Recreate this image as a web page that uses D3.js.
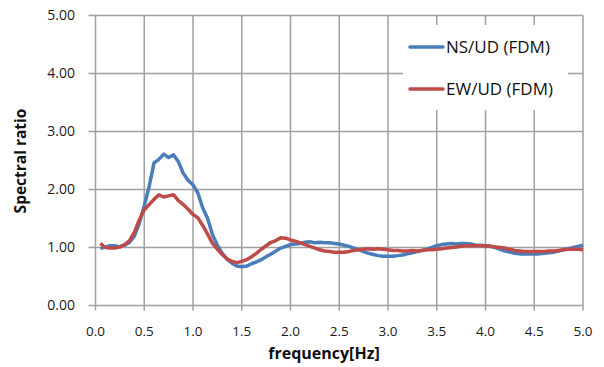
<!DOCTYPE html>
<html>
<head>
<meta charset="utf-8">
<script src="https://cdn.jsdelivr.net/npm/d3@7"></script>
<style>
  html, body { margin: 0; padding: 0; background: #ffffff; }
  svg { display: block; font-family: "Open Sans", "Liberation Sans", sans-serif; }
</style>
</head>
<body>
<svg id="chart" width="604" height="367"></svg>
<script>
// Frequency samples (Hz)
const frequency = d3.range(1, 101).map(i => +(i * 0.05).toFixed(2));

// NS/UD spectral ratio (FDM)
const nsUd = [
  0.98, 1.01, 1.03, 1.03, 1.01, 1.04, 1.09, 1.20, 1.42, 1.72,
  2.05, 2.46, 2.52, 2.61, 2.55, 2.60, 2.48, 2.28, 2.16, 2.08,
  1.94, 1.68, 1.50, 1.22, 1.04, 0.90, 0.80, 0.73, 0.68, 0.67,
  0.68, 0.72, 0.75, 0.79, 0.84, 0.89, 0.94, 0.99, 1.02, 1.05,
  1.06, 1.07, 1.09, 1.10, 1.08, 1.09, 1.08, 1.08, 1.07, 1.06,
  1.04, 1.02, 0.99, 0.96, 0.93, 0.90, 0.88, 0.86, 0.85, 0.85,
  0.85, 0.86, 0.87, 0.89, 0.91, 0.93, 0.95, 0.97, 1.00, 1.03,
  1.05, 1.06, 1.07, 1.06, 1.07, 1.07, 1.06, 1.04, 1.04, 1.03,
  1.02, 1.00, 0.97, 0.94, 0.92, 0.90, 0.89, 0.89, 0.89, 0.89,
  0.89, 0.90, 0.91, 0.92, 0.94, 0.96, 0.98, 1.00, 1.02, 1.04
];

// EW/UD spectral ratio (FDM)
const ewUd = [
  1.07, 1.00, 0.99, 0.99, 1.01, 1.05, 1.12, 1.27, 1.48, 1.65,
  1.74, 1.83, 1.91, 1.87, 1.89, 1.91, 1.81, 1.74, 1.66, 1.57,
  1.51, 1.38, 1.23, 1.07, 0.97, 0.88, 0.80, 0.76, 0.74, 0.76,
  0.79, 0.84, 0.90, 0.97, 1.03, 1.09, 1.12, 1.17, 1.16, 1.13,
  1.11, 1.08, 1.05, 1.02, 0.99, 0.96, 0.94, 0.93, 0.92, 0.92,
  0.92, 0.93, 0.95, 0.96, 0.97, 0.98, 0.97, 0.98, 0.97, 0.96,
  0.95, 0.95, 0.94, 0.94, 0.95, 0.94, 0.95, 0.96, 0.96, 0.97,
  0.98, 0.99, 1.00, 1.01, 1.02, 1.03, 1.03, 1.03, 1.03, 1.03,
  1.02, 1.01, 1.00, 0.99, 0.97, 0.95, 0.94, 0.93, 0.93, 0.93,
  0.93, 0.93, 0.94, 0.94, 0.95, 0.96, 0.97, 0.97, 0.97, 0.96
];

const seriesNames = ["NS/UD (FDM)", "EW/UD (FDM)"];
const seriesColors = ["#4a7ebb", "#be4b48"];
const xTicks = [0, 0.5, 1.0, 1.5, 2.0, 2.5, 3.0, 3.5, 4.0, 4.5, 5.0];
const yTicks = [0, 1, 2, 3, 4, 5];

const svg = d3.select("#chart");
const plot = { left: 95.5, right: 583, top: 15.5, bottom: 305.5 };

const x = d3.scaleLinear().domain([0, 5]).range([plot.left, plot.right]);
const y = d3.scaleLinear().domain([0, 5]).range([plot.bottom, plot.top]);
const gridColor = "#a0a0a0";

// Vertical grid lines
svg.append("g")
  .selectAll("line")
  .data(xTicks)
  .join("line")
  .attr("x1", d => x(d)).attr("x2", d => x(d))
  .attr("y1", plot.top).attr("y2", plot.bottom + 5)
  .attr("stroke", gridColor).attr("stroke-width", 1.5);

// Horizontal grid lines
svg.append("g")
  .selectAll("line")
  .data(yTicks)
  .join("line")
  .attr("x1", plot.left - 7).attr("x2", plot.right)
  .attr("y1", d => y(d)).attr("y2", d => y(d))
  .attr("stroke", gridColor).attr("stroke-width", 1.5);

// Y axis tick labels
svg.append("g")
  .selectAll("text")
  .data(yTicks)
  .join("text")
  .attr("x", 75)
  .attr("y", d => y(d))
  .attr("dy", "0.35em")
  .attr("text-anchor", "end")
  .attr("font-size", 14)
  .attr("fill", "#1a1a1a")
  .text(d => d3.format(".2f")(d));

// X axis tick labels
svg.append("g")
  .selectAll("text")
  .data(xTicks)
  .join("text")
  .attr("x", d => x(d))
  .attr("y", 331.5)
  .attr("dy", "0.35em")
  .attr("text-anchor", "middle")
  .attr("font-size", 13.5)
  .attr("fill", "#1a1a1a")
  .text(d => d3.format(".1f")(d));

// Axis titles
svg.append("text")
  .attr("x", 324)
  .attr("y", 353.5)
  .attr("dy", "0.35em")
  .attr("text-anchor", "middle")
  .attr("font-size", 16)
  .attr("font-weight", "bold")
  .attr("fill", "#111")
  .text("frequency[Hz]");

svg.append("text")
  .attr("transform", "translate(21,161) rotate(-90)")
  .attr("dy", "0.35em")
  .attr("text-anchor", "middle")
  .attr("font-size", 15.5)
  .attr("font-weight", "bold")
  .attr("fill", "#111")
  .text("Spectral ratio");

// Series lines
const line = d3.line()
  .x((d, i) => x(frequency[i]))
  .y(d => y(d));

[nsUd, ewUd].forEach((vals, k) => {
  svg.append("path")
    .datum(vals)
    .attr("d", line)
    .attr("fill", "none")
    .attr("stroke", seriesColors[k])
    .attr("stroke-width", 3.5)
    .attr("stroke-linejoin", "round");
});

// Legend
const legend = svg.append("g");
legend.append("rect")
  .attr("x", 403).attr("y", 25)
  .attr("width", 165).attr("height", 85)
  .attr("fill", "#ffffff");

seriesNames.forEach((name, k) => {
  const ly = 47 + k * 42;
  legend.append("line")
    .attr("x1", 410).attr("x2", 443)
    .attr("y1", ly).attr("y2", ly)
    .attr("stroke", seriesColors[k])
    .attr("stroke-width", 3.5)
    .attr("stroke-linecap", "round");
  legend.append("text")
    .attr("x", 446).attr("y", ly)
    .attr("dy", "0.35em")
    .attr("font-size", 17)
    .attr("fill", "#111")
    .text(name);
});
</script>
</body>
</html>
